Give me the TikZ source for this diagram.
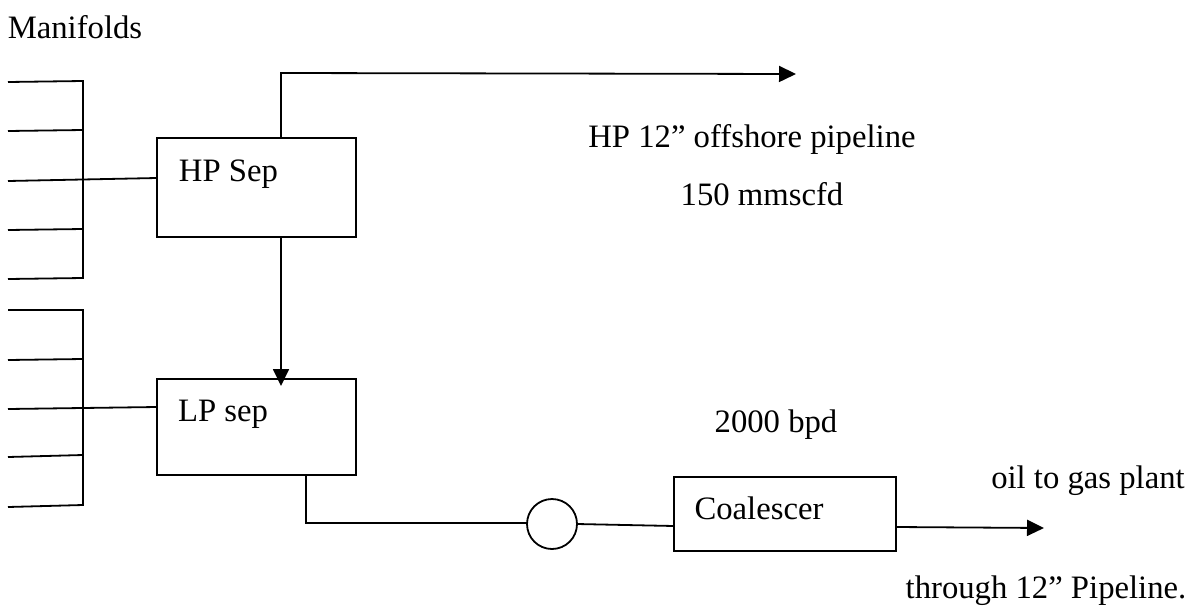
\documentclass[tikz,border=0pt]{standalone}
\usepackage{fontspec}
\setmainfont{Liberation Serif}
\usetikzlibrary{arrows.meta}
\begin{document}
\begin{tikzpicture}[x=1pt,y=-1pt,
  ln/.style={draw=black,line width=1.8pt},
  arr/.style={ln,-{Triangle[length=17pt,width=16pt]}},
  boxn/.style={draw=black,line width=1.8pt,fill=white,inner sep=0pt,outer sep=0pt,anchor=north west},
  lab/.style={font=\fontsize{32.7}{38}\selectfont,inner sep=0pt,anchor=base,text=black}]
\useasboundingbox (0,0) rectangle (1193,608);
\node[lab] (man) at (75,38) {Manifolds};
\coordinate (mt) at (83,81);
\coordinate (mb) at (83,278);
\coordinate (lt) at (83,310);
\coordinate (lb) at (83,505);
\draw[ln] (8,82) -- (mt) -- (mb) -- (8,279);
\draw[ln] (8,131) -- (83,130);
\draw[ln] (8,230) -- (83,229);
\draw[ln] (8,310) -- (lt) -- (lb) -- (8,507);
\draw[ln] (8,360) -- (83,359);
\draw[ln] (8,457) -- (83,455);
\node[boxn,minimum width=199pt,minimum height=99pt] (hp) at (157,138) {};
\node[lab] (hpt) at (228.5,181) {HP Sep};
\node[boxn,minimum width=199pt,minimum height=96pt] (lp) at (157,379) {};
\node[lab] (lpt) at (223,421) {LP sep};
\node[boxn,minimum width=222pt,minimum height=74pt] (co) at (674,477) {};
\node[lab] (cot) at (759,519) {Coalescer};
\node[draw=black,line width=1.8pt,circle,minimum size=50pt,inner sep=0pt,outer sep=0pt] (pump) at (552,524) {};
\coordinate (hin) at (8,181);
\coordinate (hinb) at (157,178);
\coordinate (lin) at (8,409);
\coordinate (linb) at (157,407);
\draw[ln] (hin) -- (hinb);
\draw[ln] (lin) -- (linb);
\coordinate (hpo) at (281,138);
\coordinate (hpc) at (281,73);
\coordinate (hpe) at (796,74);
\draw[arr] (hpo) -- (hpc) -- (hpe);
\coordinate (hpb) at (281,237);
\coordinate (lpe) at (281,386);
\draw[arr] (hpb) -- (lpe);
\coordinate (c1) at (306,475);
\coordinate (c2) at (306,523);
\draw[ln] (c1) -- (c2) -- (pump.west |- c2);
\coordinate (cin) at (674,526);
\draw[ln] (pump.east) -- (cin);
\coordinate (ost) at (896,527);
\coordinate (oute) at (1044,528);
\draw[arr] (ost) -- (oute);
\node[lab] (t1) at (752,147) {HP 12” offshore pipeline};
\node[lab] (t2) at (762,205) {150 mmscfd};
\node[lab] (t3) at (776,432) {2000 bpd};
\node[lab] (t4) at (1088,488) {oil to gas plant};
\node[lab] (t5) at (1046,598) {through 12” Pipeline.};
\end{tikzpicture}
\end{document}
